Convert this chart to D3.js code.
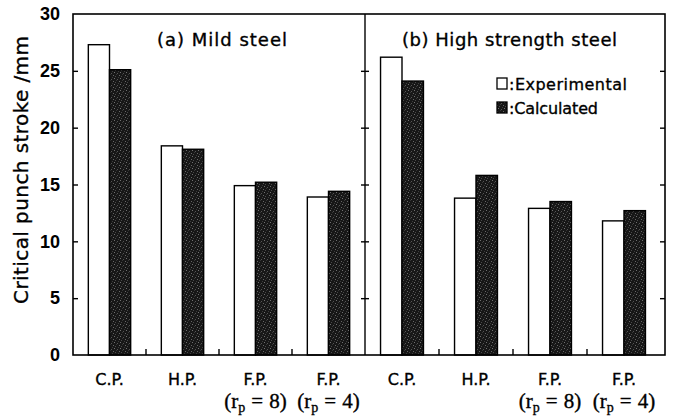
<!DOCTYPE html>
<html>
<head>
<meta charset="utf-8">
<script src="https://cdn.jsdelivr.net/npm/d3@7"></script>
<style>
  html, body { margin: 0; padding: 0; background: #fff; }
  svg { display: block; font-family: "DejaVu Sans", "Liberation Sans", Arial, sans-serif; }
  .heavy { stroke: #000; stroke-width: 0.35px; }
</style>
</head>
<body>
<svg id="chart" width="677" height="416"></svg>
<script>
// ---- data ----
const categories = ["C.P.", "H.P.", "F.P.", "F.P."];
const categoryKeys = ["CP", "HP", "FP8", "FP4"];
const subLabels = [null, null, "8", "4"];
const seriesNames = ["Experimental", "Calculated"];
const mildExperimental = [27.3, 18.4, 14.9, 13.9];
const mildCalculated = [25.1, 18.1, 15.2, 14.4];
const highExperimental = [26.2, 13.8, 12.9, 11.8];
const highCalculated = [24.1, 15.8, 13.5, 12.7];
const panelTitles = ["(a) Mild steel", "(b) High strength steel"];
const yTicks = [0, 5, 10, 15, 20, 25, 30];
const yLabel = "Critical punch stroke /mm";

const svg = d3.select("#chart");

// stipple pattern for calculated bars
const defs = svg.append("defs");
const pat = defs.append("pattern").attr("id", "stip")
  .attr("width", 6).attr("height", 6).attr("patternUnits", "userSpaceOnUse");
pat.append("rect").attr("width", 6).attr("height", 6).attr("fill", "#171717");
[[0,0,"#707070"],[3,1,"#555"],[5,3,"#666"],[1,4,"#4a4a4a"],[4,5,"#3c3c3c"],[2,2,"#383838"]].forEach(d => {
  pat.append("rect").attr("x", d[0]).attr("y", d[1]).attr("width", 1).attr("height", 1).attr("fill", d[2]);
});

const x0 = 73, xMid = 365, x1 = 665, yTop = 14, yBot = 355;
const y = d3.scaleLinear().domain([0, 30]).range([yBot, yTop]);

const panels = [
  { title: panelTitles[0], exp: mildExperimental, calc: mildCalculated, range: [x0, xMid], titleX: 157, titleW: 130 },
  { title: panelTitles[1], exp: highExperimental, calc: highCalculated, range: [xMid, 661], titleX: 402, titleW: 215 }
];

panels.forEach((p, pi) => {
  const xb = d3.scaleBand().domain(categoryKeys).range(p.range).paddingInner(0.42).paddingOuter(0.21);
  const xs = d3.scaleBand().domain(seriesNames).range([0, xb.bandwidth()]);
  const g = svg.append("g");
  categoryKeys.forEach((k, i) => {
    const vals = [p.exp[i], p.calc[i]];
    seriesNames.forEach((s, si) => {
      g.append("rect")
        .attr("x", xb(k) + xs(s))
        .attr("y", y(vals[si]))
        .attr("width", xs.bandwidth())
        .attr("height", y(0) - y(vals[si]))
        .attr("fill", si === 0 ? "#fff" : "url(#stip)")
        .attr("stroke", "#000")
        .attr("stroke-width", 1.4);
    });
    // x labels
    const cx = xb(k) + xb.bandwidth() / 2;
    g.append("text").attr("class", "heavy").attr("x", cx).attr("y", 385).attr("text-anchor", "middle")
      .attr("font-size", 16).attr("fill", "#000").text(categories[i]);
    if (subLabels[i]) {
      const t = g.append("text").attr("class", "heavy").attr("x", cx).attr("y", 408).attr("text-anchor", "middle")
        .attr("font-family", "'Liberation Serif', 'Times New Roman', serif")
        .attr("font-size", 21).attr("fill", "#000");
      t.append("tspan").text("(r");
      t.append("tspan").attr("font-size", 14).attr("dy", 4).text("p");
      t.append("tspan").attr("dy", -4).attr("dx", 6).text("=");
      t.append("tspan").attr("dx", 6).text(subLabels[i] + ")");
    }
    // minor ticks between groups
    if (i < categoryKeys.length - 1) {
      const bx = xb(k) + xb.bandwidth() + xb.step() * xb.paddingInner() / 2;
      g.append("line").attr("x1", bx).attr("x2", bx).attr("y1", yBot).attr("y2", yBot - 6)
        .attr("stroke", "#000").attr("stroke-width", 1.4);
    }
  });
  svg.append("text").attr("class", "heavy").attr("x", p.titleX).attr("y", 46)
    .attr("font-size", 18).attr("fill", "#000")
    .attr("textLength", p.titleW).attr("lengthAdjust", "spacing")
    .text(p.title);
});

// frame
svg.append("rect").attr("x", x0).attr("y", yTop).attr("width", x1 - x0).attr("height", yBot - yTop)
  .attr("fill", "none").attr("stroke", "#000").attr("stroke-width", 1.6);
svg.append("line").attr("x1", xMid).attr("x2", xMid).attr("y1", yTop).attr("y2", yBot)
  .attr("stroke", "#000").attr("stroke-width", 1.4);

// y axis (left) with inward ticks
const axL = svg.append("g").attr("transform", `translate(${x0},0)`)
  .call(d3.axisLeft(y).tickValues(yTicks).tickSize(-5).tickPadding(13).tickFormat(d3.format("d")));
axL.select(".domain").remove();
axL.selectAll("line").attr("stroke-width", 1.4);
axL.selectAll("text").attr("font-size", 18).attr("font-weight", "bold")
  .attr("font-family", "'Liberation Sans', Arial, sans-serif").attr("fill", "#000");
axL.selectAll(".tick").filter(d => d === 0 || d === 30).select("line").remove();

// right axis ticks
const axR = svg.append("g").attr("transform", `translate(${x1},0)`)
  .call(d3.axisRight(y).tickValues(yTicks.slice(1, -1)).tickSize(-5).tickFormat(""));
axR.select(".domain").remove();
axR.selectAll("line").attr("stroke-width", 1.4);

// middle divider ticks on both sides
[d3.axisLeft, d3.axisRight].forEach(fn => {
  const a = svg.append("g").attr("transform", `translate(${xMid},0)`)
    .call(fn(y).tickValues(yTicks.slice(1, -1)).tickSize(4).tickFormat(""));
  a.select(".domain").remove();
  a.selectAll("line").attr("stroke-width", 1.4);
});

// y label
svg.append("text").attr("class", "heavy").attr("transform", "translate(28,170) rotate(-90)")
  .attr("text-anchor", "middle").attr("font-size", 20).attr("fill", "#000")
  .attr("textLength", 268).attr("lengthAdjust", "spacing")
  .text(yLabel);

// legend
const leg = svg.append("g");
seriesNames.forEach((s, i) => {
  const ly = 78 + i * 24;
  leg.append("rect").attr("x", 497).attr("y", ly).attr("width", 10).attr("height", 11)
    .attr("fill", i === 0 ? "#fff" : "url(#stip)").attr("stroke", "#000").attr("stroke-width", 1.3);
  leg.append("text").attr("class", "heavy").attr("x", 509).attr("y", ly + 12)
    .attr("font-size", 16).attr("fill", "#000")
    .attr("textLength", i === 0 ? 118 : 89).attr("lengthAdjust", "spacing")
    .text(":" + s);
});
</script>
</body>
</html>
